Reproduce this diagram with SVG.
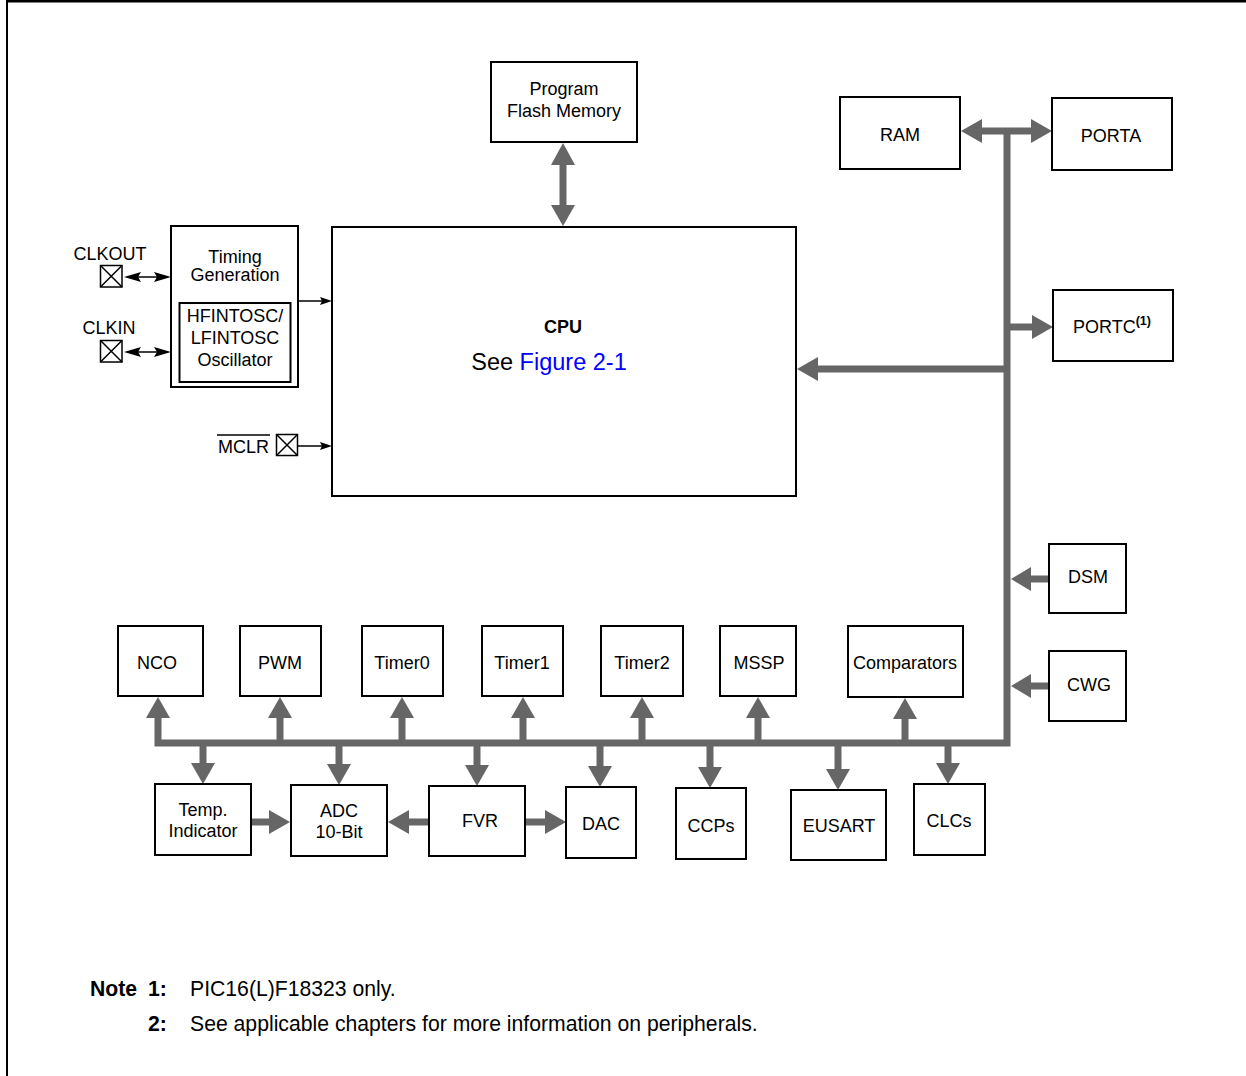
<svg xmlns="http://www.w3.org/2000/svg" width="1246" height="1076" viewBox="0 0 1246 1076">
<style>
  .box { fill: #ffffff; stroke: #000000; stroke-width: 2; }
  .t { font-family: "Liberation Sans", Arial, sans-serif; font-size: 18px; fill: #000000; text-anchor: middle; }
  .big { font-size: 23.5px; }
  .bus { fill: none; stroke: #666666; stroke-width: 7; stroke-linejoin: miter; }
  .head { fill: #666666; stroke: none; }
  .thin { fill: none; stroke: #000000; stroke-width: 1.5; }
  .bhead { fill: #000000; stroke: none; }
  .pin { fill: #ffffff; stroke: #000000; stroke-width: 1.5; }
  .note { font-family: "Liberation Sans", Arial, sans-serif; font-size: 21.2px; fill: #000000; }
</style>

<!-- frame -->
<g id="frame">
  <line x1="7" y1="1.3" x2="1246" y2="1.3" stroke="#000" stroke-width="2.6"/>
  <line x1="7" y1="0" x2="7" y2="1076" stroke="#000" stroke-width="2"/>
</g>

<!-- connectors -->
<g id="connectors">
  <!-- main gray bus -->
  <polyline class="bus" points="158,717 158,743 1007,743 1007,131"/>
  <line class="bus" x1="980" y1="131" x2="1033" y2="131"/>
  <!-- RAM / PORTA heads -->
  <polygon class="head" points="961,131 982,119 982,143"/>
  <polygon class="head" points="1052,131 1031,119 1031,143"/>
  <!-- PORTC -->
  <line class="bus" x1="1007" y1="327" x2="1033" y2="327"/>
  <polygon class="head" points="1053,327 1032,315 1032,339"/>
  <!-- CPU -->
  <line class="bus" x1="1007" y1="369" x2="816" y2="369"/>
  <polygon class="head" points="797,369 818,357 818,381"/>
  <!-- DSM / CWG into bus -->
  <line class="bus" x1="1048" y1="579" x2="1028" y2="579"/>
  <polygon class="head" points="1011,579 1031,567 1031,591"/>
  <line class="bus" x1="1048" y1="686" x2="1028" y2="686"/>
  <polygon class="head" points="1011,686 1031,674 1031,698"/>
  <!-- Program flash <-> CPU -->
  <line class="bus" x1="563" y1="163" x2="563" y2="208"/>
  <polygon class="head" points="563,143 551,165 575,165"/>
  <polygon class="head" points="563,226 551,205 575,205"/>
  <!-- up arrows -->
  <line class="bus" x1="280" y1="743" x2="280" y2="715"/>
  <line class="bus" x1="402" y1="743" x2="402" y2="715"/>
  <line class="bus" x1="523" y1="743" x2="523" y2="715"/>
  <line class="bus" x1="642" y1="743" x2="642" y2="715"/>
  <line class="bus" x1="758" y1="743" x2="758" y2="715"/>
  <line class="bus" x1="905" y1="743" x2="905" y2="716"/>
  <polygon class="head" points="158,697 146,718 170,718"/>
  <polygon class="head" points="280,697 268,718 292,718"/>
  <polygon class="head" points="402,697 390,718 414,718"/>
  <polygon class="head" points="523,697 511,718 535,718"/>
  <polygon class="head" points="642,697 630,718 654,718"/>
  <polygon class="head" points="758,697 746,718 770,718"/>
  <polygon class="head" points="905,698 893,719 917,719"/>
  <!-- down arrows -->
  <line class="bus" x1="203" y1="743" x2="203" y2="766"/>
  <line class="bus" x1="339" y1="743" x2="339" y2="767"/>
  <line class="bus" x1="477" y1="743" x2="477" y2="768"/>
  <line class="bus" x1="600" y1="743" x2="600" y2="769"/>
  <line class="bus" x1="710" y1="743" x2="710" y2="770"/>
  <line class="bus" x1="838" y1="743" x2="838" y2="772"/>
  <line class="bus" x1="948" y1="743" x2="948" y2="766"/>
  <polygon class="head" points="203,784 191,763 215,763"/>
  <polygon class="head" points="339,785 327,764 351,764"/>
  <polygon class="head" points="477,786 465,765 489,765"/>
  <polygon class="head" points="600,787 588,766 612,766"/>
  <polygon class="head" points="710,788 698,767 722,767"/>
  <polygon class="head" points="838,790 826,769 850,769"/>
  <polygon class="head" points="948,784 936,763 960,763"/>
  <!-- horizontal lower arrows -->
  <line class="bus" x1="251" y1="822" x2="272" y2="822"/>
  <polygon class="head" points="290,822 269,810 269,834"/>
  <line class="bus" x1="429" y1="822" x2="407" y2="822"/>
  <polygon class="head" points="388,822 409,810 409,834"/>
  <line class="bus" x1="525" y1="822" x2="547" y2="822"/>
  <polygon class="head" points="566,822 545,810 545,834"/>
  <!-- thin black arrows -->
  <line class="thin" x1="130" y1="277" x2="164" y2="277"/>
  <polygon class="bhead" points="124,277 141,272 138,277 141,282"/>
  <polygon class="bhead" points="171,277 154,272 157,277 154,282"/>
  <line class="thin" x1="130" y1="352" x2="164" y2="352"/>
  <polygon class="bhead" points="124,352 141,347 138,352 141,357"/>
  <polygon class="bhead" points="171,352 154,347 157,352 154,357"/>
  <line class="thin" x1="298" y1="301" x2="325" y2="301"/>
  <polygon class="bhead" points="332,301 320,297 322,301 320,305"/>
  <line class="thin" x1="298" y1="446" x2="325" y2="446"/>
  <polygon class="bhead" points="332,446 320,442 322,446 320,450"/>
</g>

<!-- nodes -->
<g id="flash">
  <rect class="box" x="491" y="62" width="146" height="80"/>
  <text class="t" x="564" y="95">Program</text>
  <text class="t" x="564" y="117">Flash Memory</text>
</g>
<g id="ram">
  <rect class="box" x="840" y="97" width="120" height="72"/>
  <text class="t" x="900" y="141">RAM</text>
</g>
<g id="porta">
  <rect class="box" x="1052" y="98" width="120" height="72"/>
  <text class="t" x="1111" y="142">PORTA</text>
</g>
<g id="portc">
  <rect class="box" x="1053" y="290" width="120" height="71"/>
  <text class="t" x="1112" y="333">PORTC<tspan style="font-size:12.5px;font-weight:bold" dy="-8">(1)</tspan></text>
</g>
<g id="cpu">
  <rect class="box" x="332" y="227" width="464" height="269"/>
  <text class="t" x="563" y="333" font-weight="bold">CPU</text>
  <text class="t big" x="549" y="370">See <tspan fill="#0000ff">Figure 2-1</tspan></text>
</g>
<g id="timing">
  <rect class="box" x="171" y="226" width="127" height="161"/>
  <text class="t" x="235" y="263">Timing</text>
  <text class="t" x="235" y="281">Generation</text>
  <rect class="box" x="179.5" y="303" width="111" height="79"/>
  <text class="t" x="235" y="322">HFINTOSC/</text>
  <text class="t" x="235" y="344">LFINTOSC</text>
  <text class="t" x="235" y="366">Oscillator</text>
</g>
<g id="clkout">
  <text class="t" x="110" y="260">CLKOUT</text>
  <rect class="pin" x="100.5" y="265.5" width="21.5" height="21.5"/>
  <path class="thin" d="M100.5,265.5 L122,287 M122,265.5 L100.5,287"/>
</g>
<g id="clkin">
  <text class="t" x="109" y="334">CLKIN</text>
  <rect class="pin" x="100.5" y="340.5" width="21.5" height="21.5"/>
  <path class="thin" d="M100.5,340.5 L122,362 M122,340.5 L100.5,362"/>
</g>
<g id="mclr">
  <text class="t" x="243.5" y="453">MCLR</text>
  <line x1="217" y1="435" x2="270" y2="435" stroke="#000" stroke-width="1.3"/>
  <rect class="pin" x="276.5" y="434.5" width="21" height="21"/>
  <path class="thin" d="M276.5,434.5 L297.5,455.5 M297.5,434.5 L276.5,455.5"/>
</g>
<g id="dsm">
  <rect class="box" x="1049" y="544" width="77" height="69"/>
  <text class="t" x="1088" y="583">DSM</text>
</g>
<g id="cwg">
  <rect class="box" x="1049" y="651" width="77" height="70"/>
  <text class="t" x="1089" y="691">CWG</text>
</g>
<g id="nco">
  <rect class="box" x="118" y="626" width="85" height="70"/>
  <text class="t" x="157" y="669">NCO</text>
</g>
<g id="pwm">
  <rect class="box" x="240" y="626" width="81" height="70"/>
  <text class="t" x="280" y="669">PWM</text>
</g>
<g id="timer0">
  <rect class="box" x="362" y="626" width="81" height="70"/>
  <text class="t" x="402" y="669">Timer0</text>
</g>
<g id="timer1">
  <rect class="box" x="482" y="626" width="81" height="70"/>
  <text class="t" x="522" y="669">Timer1</text>
</g>
<g id="timer2">
  <rect class="box" x="601" y="626" width="82" height="70"/>
  <text class="t" x="642" y="669">Timer2</text>
</g>
<g id="mssp">
  <rect class="box" x="720" y="626" width="76" height="70"/>
  <text class="t" x="759" y="669">MSSP</text>
</g>
<g id="comparators">
  <rect class="box" x="848" y="626" width="115" height="71"/>
  <text class="t" x="905" y="669">Comparators</text>
</g>
<g id="temp">
  <rect class="box" x="155" y="784" width="96" height="71"/>
  <text class="t" x="203" y="816">Temp.</text>
  <text class="t" x="203" y="837">Indicator</text>
</g>
<g id="adc">
  <rect class="box" x="291" y="785" width="96" height="71"/>
  <text class="t" x="339" y="817">ADC</text>
  <text class="t" x="339" y="838">10-Bit</text>
</g>
<g id="fvr">
  <rect class="box" x="429" y="786" width="96" height="70"/>
  <text class="t" x="480" y="827">FVR</text>
</g>
<g id="dac">
  <rect class="box" x="566" y="787" width="70" height="71"/>
  <text class="t" x="601" y="830">DAC</text>
</g>
<g id="ccps">
  <rect class="box" x="676" y="788" width="70" height="71"/>
  <text class="t" x="711" y="832">CCPs</text>
</g>
<g id="eusart">
  <rect class="box" x="791" y="790" width="95" height="70"/>
  <text class="t" x="839" y="832">EUSART</text>
</g>
<g id="clcs">
  <rect class="box" x="914" y="784" width="71" height="71"/>
  <text class="t" x="949" y="827">CLCs</text>
</g>

<!-- notes -->
<g id="notes">
  <text class="note" x="90" y="996" font-weight="bold">Note</text>
  <text class="note" x="148" y="996" font-weight="bold">1:</text>
  <text class="note" x="190" y="996">PIC16(L)F18323 only.</text>
  <text class="note" x="148" y="1031" font-weight="bold">2:</text>
  <text class="note" x="190" y="1031">See applicable chapters for more information on peripherals.</text>
</g>
</svg>
